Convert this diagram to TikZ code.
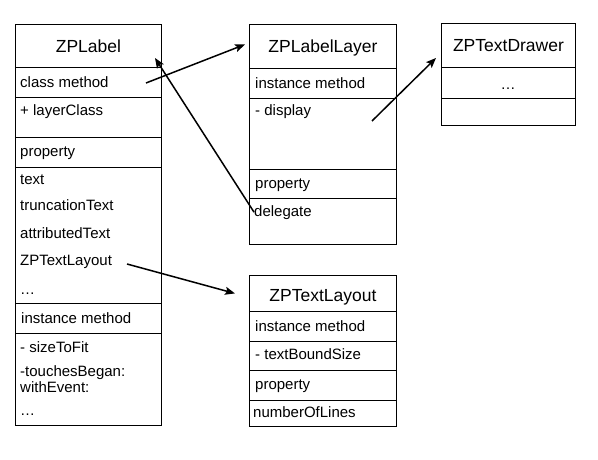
\documentclass[tikz,border=0pt]{standalone}
\usepackage{fontspec}
\setmainfont{Liberation Sans}
\usetikzlibrary{arrows.meta,positioning}
\newcommand{\rowfont}{\fontsize{15pt}{17pt}\selectfont}
\newcommand{\headfont}{\fontsize{17.5pt}{20pt}\selectfont}

\begin{document}
\begin{tikzpicture}[x=1pt, y=-1pt,
    cell/.style={draw, line width=0.9pt, anchor=north west, inner sep=0pt},
    head/.style={cell, font=\headfont, text height=13pt, text depth=0pt},
    item/.style={anchor=base west, inner sep=0pt, font=\rowfont},
    link/.style={line width=1.5pt, -{Stealth[length=10pt,width=8pt,inset=2pt]}}
  ]
  \useasboundingbox (0,0) rectangle (598,460);

  \node[head, minimum width=146pt, minimum height=43pt]  (lblTitle)    at (15,24)  {ZPLabel};
  \node[cell, minimum width=146pt, minimum height=30pt]  (lblCls)      at (15,67)  {};
  \node[cell, minimum width=146pt, minimum height=40pt]  (lblClsBody)  at (15,97)  {};
  \node[cell, minimum width=146pt, minimum height=30pt]  (lblProp)     at (15,137) {};
  \node[cell, minimum width=146pt, minimum height=136pt] (lblPropBody) at (15,167) {};
  \node[cell, minimum width=146pt, minimum height=30pt]  (lblInst)     at (15,303) {};
  \node[cell, minimum width=146pt, minimum height=92pt]  (lblInstBody) at (15,333) {};

  \node[item] (lblCm)   at (20,88)  {class method};
  \node[item] (lblLc)   at (20,116) {+ layerClass};
  \node[item] (lblPh)   at (20,157) {property};
  \node[item] (lblTx)   at (20,184) {text};
  \node[item] (lblTt)   at (20,211) {truncationText};
  \node[item] (lblAt)   at (20,238) {attributedText};
  \node[item] (lblTl)   at (20,265) {ZPTextLayout};
  \node[item] (lblMore) at (20,294) {…};
  \node[item] (lblIh)   at (21,323) {instance method};
  \node[item] (lblStf)  at (20,352) {- sizeToFit};
  \node[item] (lblTb)   at (20,376) {-touchesBegan:};
  \node[item] (lblWe)   at (20,392) {withEvent:};
  \node[item] (lblEnd)  at (20,415) {…};

  \node[head, minimum width=147pt, minimum height=44pt]  (lyrTitle)    at (249,24)  {ZPLabelLayer};
  \node[cell, minimum width=147pt, minimum height=30pt]  (lyrInst)     at (249,68)  {};
  \node[cell, minimum width=147pt, minimum height=71pt]  (lyrInstBody) at (249,98)  {};
  \node[cell, minimum width=147pt, minimum height=29pt]  (lyrProp)     at (249,169) {};
  \node[cell, minimum width=147pt, minimum height=46pt]  (lyrPropBody) at (249,198) {};

  \node[item] (lyrIh)   at (255,89)  {instance method};
  \node[item] (lyrDisp) at (255,116) {- display};
  \node[item] (lyrPh)   at (255,189) {property};
  \node[item] (dlgTxt)  at (254,216) {delegate};

  \node[head, minimum width=147pt, minimum height=36pt, text height=16pt] (tlTitle) at (249,275) {ZPTextLayout};
  \node[cell, minimum width=147pt, minimum height=30pt]  (tlInst)      at (249,311) {};
  \node[cell, minimum width=147pt, minimum height=29pt]  (tlInstBody)  at (249,341) {};
  \node[cell, minimum width=147pt, minimum height=30pt]  (tlProp)      at (249,370) {};
  \node[cell, minimum width=147pt, minimum height=26pt]  (tlPropBody)  at (249,400) {};

  \node[item] (tlIh) at (255,331) {instance method};
  \node[item] (tlBs) at (255,359) {- textBoundSize};
  \node[item] (tlPh) at (255,389) {property};
  \node[item] (tlNl) at (253,417) {numberOfLines};

  \node[head, minimum width=134pt, minimum height=44pt]  (drwTitle)    at (441,23)  {ZPTextDrawer};
  \node[cell, minimum width=134pt, minimum height=31pt]  (drwBody)     at (441,67)  {};
  \node[cell, minimum width=134pt, minimum height=27pt]  (drwEnd)      at (441,98)  {};
  \node[item, anchor=base] (drwMore) at (508,90) {…};

  \coordinate (clsFrom)  at (146,83);
  \coordinate (lblTip)   at (155,58);
  \coordinate (dispFrom) at (372,121);
  \coordinate (drwTip)   at (436,58);
  \coordinate (tlFrom)   at (127,264);

  \draw[link] (clsFrom) -- ([shift={(-4,-2)}]lyrTitle.west);
  \draw[link] (dlgTxt.west) -- (lblTip);
  \draw[link] (dispFrom) -- (drwTip);
  \draw[link] (tlFrom) -- ([xshift=-14pt]tlTitle.west);
\end{tikzpicture}
\end{document}
